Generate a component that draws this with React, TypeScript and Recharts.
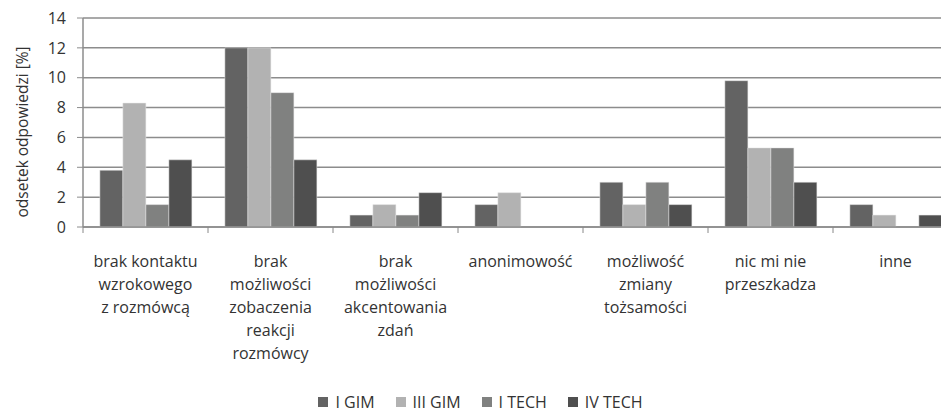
import { BarChart, Bar, XAxis, YAxis, CartesianGrid, Legend } from 'recharts';

const categories = [
  'brak kontaktu\nwzrokowego\nz rozmówcą',
  'brak\nmożliwości\nzobaczenia\nreakcji\nrozmówcy',
  'brak\nmożliwości\nakcentowania\nzdań',
  'anonimowość',
  'możliwość\nzmiany\ntożsamości',
  'nic mi nie\nprzeszkadza',
  'inne',
];
const seriesNames = ['I GIM', 'III GIM', 'I TECH', 'IV TECH'];
const seriesColors = ['#636363', '#b2b2b2', '#808180', '#4f4f4f'];
const iGim = [3.8, 12, 0.8, 1.5, 3, 9.8, 1.5];
const iiiGim = [8.3, 12, 1.5, 2.3, 1.5, 5.3, 0.8];
const iTech = [1.5, 9, 0.8, 0, 3, 5.3, 0];
const ivTech = [4.5, 4.5, 2.3, 0, 1.5, 3, 0.8];
const yTicks = [0, 2, 4, 6, 8, 10, 12, 14];

const data = categories.map((name, i) => ({
  name,
  'I GIM': iGim[i],
  'III GIM': iiiGim[i],
  'I TECH': iTech[i],
  'IV TECH': ivTech[i],
}));

const W = 962;
const H = 405;
const M = { top: 10, right: 12, left: 15, bottom: 0 };
const Y_W = 60;
const BAND = (W - M.left - M.right - Y_W) / categories.length;
const FONT = '"Open Sans", Arial, sans-serif';

const CatTick = (props: any) => {
  const { x, y, payload, index } = props;
  const lines = String(payload.value).split('\n');
  return (
    <g>
      <line x1={x - BAND / 2} x2={x - BAND / 2} y1={y - 8} y2={y - 2} stroke="#888" strokeWidth={1} />
      {index === categories.length - 1 && (
        <line x1={x + BAND / 2} x2={x + BAND / 2} y1={y - 8} y2={y - 2} stroke="#888" strokeWidth={1} />
      )}
      <text x={x} y={y + 32} textAnchor="middle" fontSize={16} fill="#333" fontFamily={FONT}>
        {lines.map((l, i) => (
          <tspan key={i} x={x} dy={i === 0 ? 0 : 23}>{l}</tspan>
        ))}
      </text>
    </g>
  );
};

const LegendContent = () => (
  <div style={{ display: 'flex', justifyContent: 'center', gap: 21, fontFamily: FONT, fontSize: 16, lineHeight: '18px', color: '#333', paddingLeft: 10, paddingBottom: 2 }}>
    {seriesNames.map((n, i) => (
      <div key={n} style={{ display: 'flex', alignItems: 'center', gap: 7 }}>
        <span style={{ width: 10, height: 10, background: seriesColors[i], display: 'inline-block' }} />
        <span>{n}</span>
      </div>
    ))}
  </div>
);

export default function App() {
  return (
    <div style={{ width: 941, height: H, overflow: 'hidden' }}>
      <BarChart width={W} height={H} data={data} margin={M} barCategoryGap="13.5%" barGap={0}>
        <CartesianGrid vertical={false} stroke="#8c8c8c" strokeWidth={1.5} />
        <XAxis
          dataKey="name"
          axisLine={{ stroke: '#8c8c8c', strokeWidth: 1.5 }}
          tickLine={false}
          interval={0}
          height={166}
          tick={<CatTick />}
        />
        <YAxis
          width={Y_W}
          domain={[0, 14]}
          ticks={yTicks}
          interval={0}
          axisLine={{ stroke: '#8c8c8c', strokeWidth: 1.5 }}
          tickLine={{ stroke: '#8c8c8c' }}
          tickSize={6}
          tickMargin={11}
          tick={{ fontSize: 16, fill: '#333', fontFamily: FONT }}
          label={{
            value: 'odsetek odpowiedzi [%]',
            angle: -90,
            position: 'insideLeft',
            dx: -6,
            dy: 95,
            style: { fontSize: 15.5, fill: '#333', fontFamily: FONT },
          }}
        />
        <Legend verticalAlign="bottom" content={<LegendContent />} wrapperStyle={{ left: 0 }} />
        {seriesNames.map((n, i) => (
          <Bar key={n} dataKey={n} fill={seriesColors[i]} stroke="#e6e6e6" strokeWidth={0.5} isAnimationActive={false} />
        ))}
      </BarChart>
    </div>
  );
}
